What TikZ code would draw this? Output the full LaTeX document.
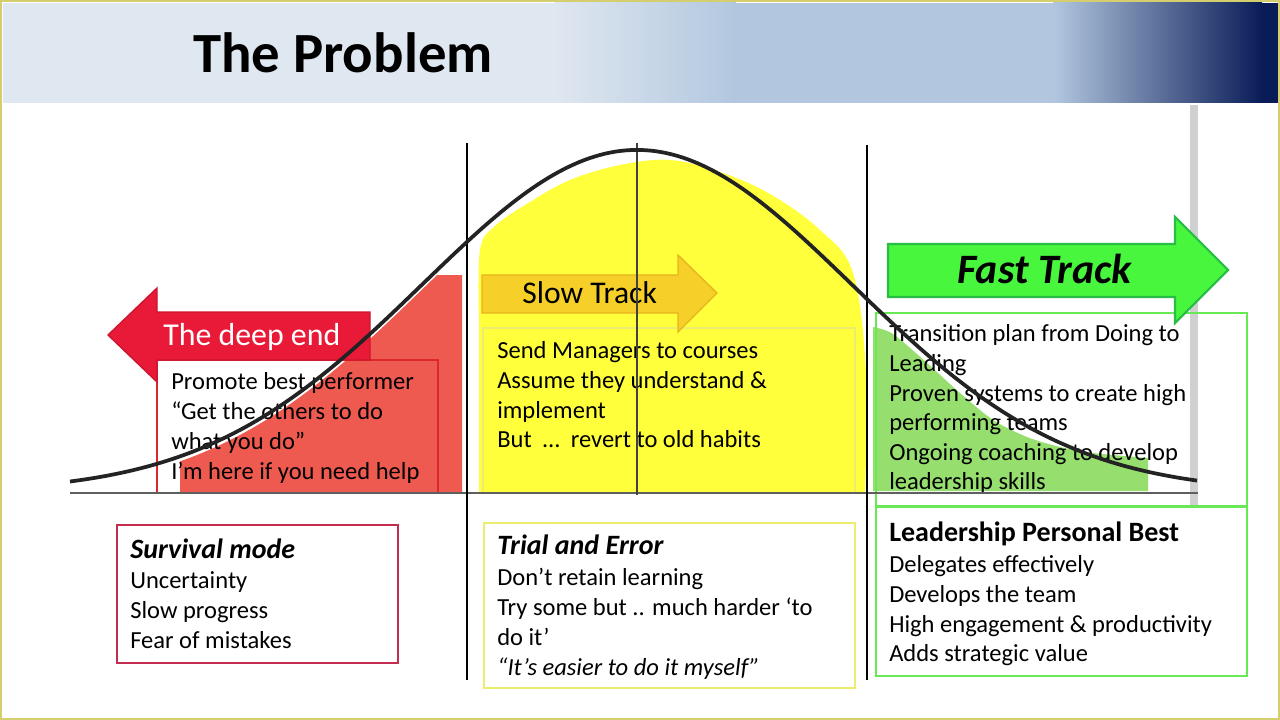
\documentclass[tikz,border=0pt]{standalone}
\usepackage{fontspec}
\setmainfont{Carlito}
\definecolor{tlight}{RGB}{223,231,240}
\definecolor{tmid}{RGB}{178,199,223}
\definecolor{tdark}{RGB}{10,28,88}
\definecolor{frameyel}{RGB}{212,206,110}
\definecolor{rblob}{RGB}{238,90,80}
\definecolor{yblob}{RGB}{255,255,60}
\definecolor{gblob}{RGB}{150,222,110}
\definecolor{deepfill}{RGB}{232,26,56}
\definecolor{deepline}{RGB}{205,20,45}
\definecolor{slowfill}{RGB}{246,206,40}
\definecolor{slowline}{RGB}{232,180,30}
\definecolor{fastfill}{RGB}{72,246,62}
\definecolor{fastline}{RGB}{40,190,70}
\definecolor{gboxline}{RGB}{105,232,85}
\definecolor{yboxline}{RGB}{236,236,110}
\definecolor{rboxline}{RGB}{220,40,45}
\definecolor{sboxline}{RGB}{195,45,80}
\definecolor{curvecol}{RGB}{35,35,35}
\definecolor{basecol}{RGB}{95,95,95}
\definecolor{lightgray}{RGB}{208,208,208}
\begin{document}
\begin{tikzpicture}[x=0.75pt,y=-0.75pt,
  txt/.style={anchor=base west, inner sep=0pt, font=\fontsize{18.4}{22}\selectfont},
  txtbi/.style={txt, font=\fontsize{21}{25}\selectfont\bfseries\itshape},
  txtb/.style={txt, font=\fontsize{21}{25}\selectfont\bfseries},
  txti/.style={txt, font=\fontsize{18.4}{22}\selectfont\itshape},
  boxr/.style={draw=rboxline, line width=1pt},
  boxs/.style={draw=sboxline, line width=1pt},
  boxy/.style={draw=yboxline, line width=1.5pt},
  boxg/.style={draw=gboxline, line width=1.6pt},
  vline/.style={draw=black, line width=1.9pt},
  bell/.style={draw=curvecol, line width=2.8pt, line join=round},
]
\useasboundingbox (0,0) rectangle (1280,720);
\fill[white] (0,0) rectangle (1280,720);

% title bar
\fill[tlight] (3,3) rectangle (556,103);
\shade[left color=tlight, right color=tmid] (555,3) rectangle (736,103);
\fill[tmid] (735,3) rectangle (1054,103);
\shade[left color=tmid, right color=tdark] (1053,3) rectangle (1262,103);
\fill[tdark] (1261,3) rectangle (1278,103);
\node[anchor=base west, inner sep=0pt, font=\fontsize{42.6}{50}\selectfont\bfseries] (title) at (193,73) {The Problem};

% light gray vertical line
\coordinate (gvt) at (1194,105);
\coordinate (gvb) at (1194,505);
\draw[lightgray, line width=6pt] (gvt) -- (gvb);

% blobs
\begin{scope}
\clip (180,275) rectangle (462,492);
\fill[rblob] plot[domain=170:470,samples=80] (\x,{497-342*exp(-((\x-637)/100)^2/9.2332)}) -- (470,492) -- (170,492) -- cycle;
\end{scope}
\fill[yblob] plot[smooth, tension=0.6] coordinates {(479,320) (480,250) (495,226) (530,202) (570,180) (620,165) (670,160) (720,172) (770,194) (820,230) (853,273) (866,373) (865,493)} -- (479,493) -- cycle;
\fill[gblob] plot[smooth] coordinates {(873,327) (893,334) (927,363) (960,393) (993,420) (1027,437) (1060,447) (1093,453) (1148,458)} -- (1148,491) -- (873,491) -- cycle;

% boxes
\draw[boxr] (157,360) rectangle (438,493);
\draw[boxy] (483,328) rectangle (855,493);
\draw[boxg] (876,313) rectangle (1247,506);
\draw[boxg] (876,507) rectangle (1247,676);
\draw[boxs] (117,525) rectangle (398,663);
\draw[boxy] (484,523) rectangle (855,688);

% arrows
\filldraw[fill=deepfill, draw=deepline, line width=1pt, line join=miter]
  (108,335) -- (157,288) -- (157,312) -- (370,312) -- (370,360) -- (157,360) -- (157,382) -- cycle;
\filldraw[fill=slowfill, draw=slowline, line width=1pt, fill opacity=0.95]
  (482,275) -- (678,275) -- (678,255) -- (717,293) -- (678,332) -- (678,313) -- (482,313) -- cycle;
\filldraw[fill=fastfill, draw=fastline, line width=1.6pt]
  (888,244) -- (1175,244) -- (1175,217) -- (1228,270) -- (1175,323) -- (1175,297) -- (888,297) -- cycle;

\node[anchor=base west, inner sep=0pt, text=white, font=\fontsize{23.9}{28}\selectfont] (deep) at (163,345) {The deep end};
\node[anchor=base west, inner sep=0pt, font=\fontsize{23.7}{28}\selectfont] (slow) at (522,303) {Slow Track};
\node[anchor=base west, inner sep=0pt, font=\fontsize{31.4}{36}\selectfont\bfseries\itshape] (fast) at (957,283) {Fast Track};

% promote box text
\node[txt] (p1) at (171,389) {Promote best performer};
\node[txt] (p2) at (171,419) {“Get the others to do};
\node[txt] (p3) at (171,449) {what you do”};
\node[txt] (p4) at (171,479) {I’m here if you need help};

% slow box text
\node[txt] (s1) at (497,358) {Send Managers to courses};
\node[txt] (s2) at (497,388) {Assume they understand \&};
\node[txt] (s3) at (497,418) {implement};
\node[txt] (s4) at (497,447) {But\ \ …\ \ revert to old habits};

% fast box text
\node[txt] (f1) at (889,341) {Transition plan from Doing to};
\node[txt] (f2) at (889,371) {Leading};
\node[txt] (f3) at (889,401) {Proven systems to create high};
\node[txt] (f4) at (889,430) {performing teams};
\node[txt] (f5) at (889,460) {Ongoing coaching to develop};
\node[txt] (f6) at (889,489) {leadership skills};

% leadership box text
\node[txtb] (l1) at (889,541) {Leadership Personal Best};
\node[txt] (l2) at (889,572) {Delegates effectively};
\node[txt] (l3) at (889,602) {Develops the team};
\node[txt] (l4) at (889,632) {High engagement \& productivity};
\node[txt] (l5) at (889,661) {Adds strategic value};

% survival box text
\node[txtbi] (v1) at (130,558) {Survival mode};
\node[txt] (v2) at (130,588) {Uncertainty};
\node[txt] (v3) at (130,618) {Slow progress};
\node[txt] (v4) at (130,648) {Fear of mistakes};

% trial box text
\node[txtbi] (t1) at (497,554) {Trial and Error};
\node[txt] (t2) at (497,585) {Don’t retain learning};
\node[txt] (t3) at (497,615) {Try some but .. much harder ‘to};
\node[txt] (t4) at (497,645) {do it’};
\node[txti] (t5) at (497,675) {“It’s easier to do it myself”};

% axes and lines
\coordinate (bl) at (70,493);
\coordinate (br) at (1198,493);
\draw[basecol, line width=2pt] (bl) -- (br);
\coordinate (c1t) at (637,143);
\coordinate (c1b) at (637,495);
\draw[draw={rgb,255:red,65;green,65;blue,65}, line width=1.5pt] (c1t) -- (c1b);
\coordinate (v1t) at (467,143);
\coordinate (v1b) at (467,680);
\coordinate (v2t) at (867,145);
\coordinate (v2b) at (867,680);
\draw[vline] (v1t) -- (v1b);
\draw[vline] (v2t) -- (v2b);

% bell curve
\draw[bell] plot[domain=70:1197,samples=220] (\x,{492-342*exp(-((\x-637)/100)^2/9.2332)});

% frame
\draw[frameyel, line width=1.5pt] (1,1) rectangle (1279,719);
\end{tikzpicture}
\end{document}
